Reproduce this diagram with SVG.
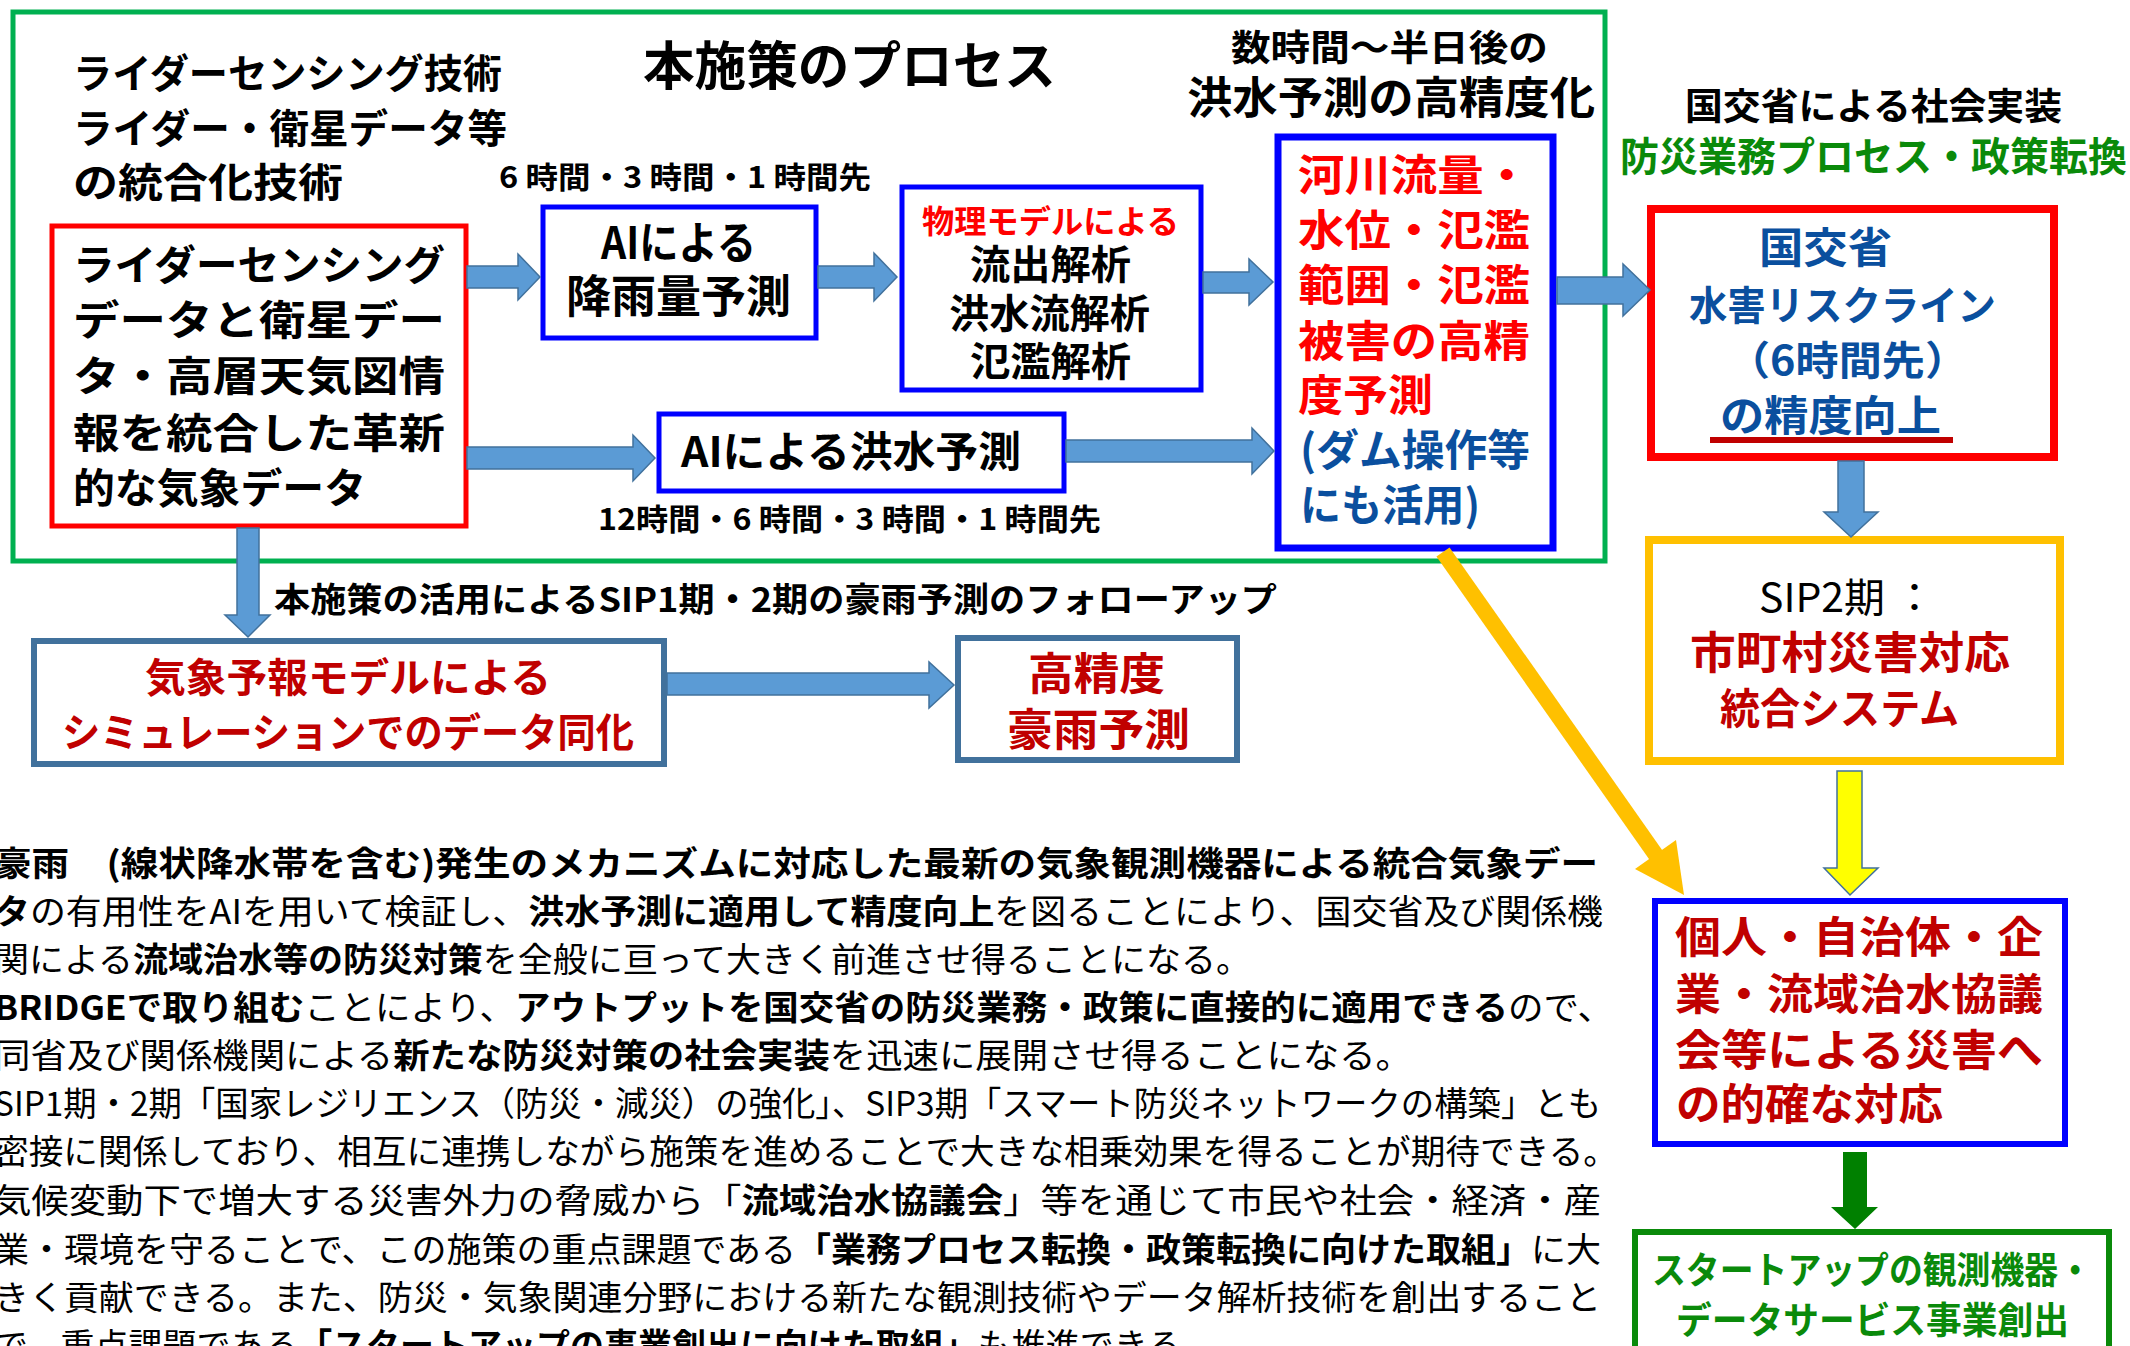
<svg xmlns="http://www.w3.org/2000/svg" width="2130" height="1346" viewBox="0 0 2130 1346">
<style>
text{font-family:"Noto Sans CJK JP","Noto Sans",sans-serif;font-weight:700;fill:#000}
.n{font-weight:400}
.b{font-weight:700}
.red{fill:#FF0000}
.dred{fill:#C00000}
.blu{fill:#0A4F9E}
.grn{fill:#0A8A0A}
.box{fill:#fff}
.ba{fill:#5B9BD5;stroke:#41719C;stroke-width:1.5}
.p{font-size:34px}
</style>
<rect x="0" y="0" width="2130" height="1346" fill="#fff"/>

<g id="process-frame">
<rect x="13" y="12" width="1592" height="549" fill="none" stroke="#00B050" stroke-width="5"/>
<text x="643" y="85" font-size="52" textLength="413" lengthAdjust="spacingAndGlyphs">本施策のプロセス</text>
</g>

<g id="tech-label">
<text x="73" y="88" font-size="40" textLength="429" lengthAdjust="spacingAndGlyphs">ライダーセンシング技術</text>
<text x="73" y="143" font-size="40" textLength="434" lengthAdjust="spacingAndGlyphs">ライダー・衛星データ等</text>
<text x="73" y="197" font-size="40" textLength="270" lengthAdjust="spacingAndGlyphs">の統合化技術</text>
</g>

<g id="node-data">
<rect class="box" x="52" y="226" width="414" height="300" stroke="#FF0000" stroke-width="5"/>
<text x="73" y="280" font-size="41" textLength="372" lengthAdjust="spacingAndGlyphs">ライダーセンシング</text>
<text x="73" y="335" font-size="41" textLength="372" lengthAdjust="spacingAndGlyphs">データと衛星デー</text>
<text x="73" y="391" font-size="41" textLength="372" lengthAdjust="spacingAndGlyphs">タ・高層天気図情</text>
<text x="73" y="448" font-size="41" textLength="372" lengthAdjust="spacingAndGlyphs">報を統合した革新</text>
<text x="73" y="503" font-size="41" textLength="293" lengthAdjust="spacingAndGlyphs">的な気象データ</text>
</g>

<g id="label-6h">
<text x="499" y="188" font-size="30" textLength="372" lengthAdjust="spacingAndGlyphs">6 時間・3 時間・1 時間先</text>
</g>

<g id="node-ai-rain">
<rect class="box" x="543" y="207" width="273" height="131" stroke="#0000FF" stroke-width="5"/>
<text x="601" y="259" font-size="44" textLength="155" lengthAdjust="spacingAndGlyphs">AIによる</text>
<text x="566" y="313" font-size="45" textLength="225" lengthAdjust="spacingAndGlyphs">降雨量予測</text>
</g>

<g id="node-physics">
<rect class="box" x="902" y="187" width="299" height="203" stroke="#0000FF" stroke-width="5"/>
<text class="red" x="922" y="233" font-size="32" textLength="257" lengthAdjust="spacingAndGlyphs">物理モデルによる</text>
<text x="970" y="279" font-size="40" textLength="161" lengthAdjust="spacingAndGlyphs">流出解析</text>
<text x="949" y="328" font-size="40" textLength="201" lengthAdjust="spacingAndGlyphs">洪水流解析</text>
<text x="970" y="376" font-size="40" textLength="161" lengthAdjust="spacingAndGlyphs">氾濫解析</text>
</g>

<g id="node-ai-flood">
<rect class="box" x="659" y="414" width="405" height="77" stroke="#0000FF" stroke-width="5"/>
<text x="681" y="467" font-size="42" textLength="340" lengthAdjust="spacingAndGlyphs">AIによる洪水予測</text>
</g>

<g id="label-12h">
<text x="598" y="530" font-size="30" textLength="503" lengthAdjust="spacingAndGlyphs">12時間・6 時間・3 時間・1 時間先</text>
</g>

<g id="label-hours">
<text x="1231" y="61" font-size="36" textLength="317" lengthAdjust="spacingAndGlyphs">数時間～半日後の</text>
<text x="1187" y="114" font-size="44" textLength="408" lengthAdjust="spacingAndGlyphs">洪水予測の高精度化</text>
</g>

<g id="node-river">
<rect class="box" x="1278" y="137" width="275" height="411" stroke="#0000FF" stroke-width="7"/>
<text class="red" x="1298" y="191" font-size="43" textLength="232" lengthAdjust="spacingAndGlyphs">河川流量・</text>
<text class="red" x="1298" y="246" font-size="43" textLength="232" lengthAdjust="spacingAndGlyphs">水位・氾濫</text>
<text class="red" x="1298" y="301" font-size="43" textLength="232" lengthAdjust="spacingAndGlyphs">範囲・氾濫</text>
<text class="red" x="1298" y="357" font-size="43" textLength="232" lengthAdjust="spacingAndGlyphs">被害の高精</text>
<text class="red" x="1298" y="411" font-size="43" textLength="135" lengthAdjust="spacingAndGlyphs">度予測</text>
<text class="blu" x="1300" y="466" font-size="43" textLength="230" lengthAdjust="spacingAndGlyphs">(ダム操作等</text>
<text class="blu" x="1300" y="521" font-size="43" textLength="180" lengthAdjust="spacingAndGlyphs">にも活用)</text>
</g>

<g id="label-mlit">
<text x="1685" y="120" font-size="37" textLength="377" lengthAdjust="spacingAndGlyphs">国交省による社会実装</text>
<text class="grn" x="1620" y="171" font-size="40" textLength="507" lengthAdjust="spacingAndGlyphs">防災業務プロセス・政策転換</text>
</g>

<g id="node-mlit">
<rect class="box" x="1651" y="209" width="403" height="248" stroke="#FF0000" stroke-width="8"/>
<text class="blu" x="1759" y="263" font-size="42" textLength="133" lengthAdjust="spacingAndGlyphs">国交省</text>
<text class="blu" x="1689" y="320" font-size="40" textLength="307" lengthAdjust="spacingAndGlyphs">水害リスクライン</text>
<text class="blu" x="1727" y="375" font-size="40" textLength="241" lengthAdjust="spacingAndGlyphs">（6時間先）</text>
<text class="blu" x="1720" y="431" font-size="42" textLength="221" lengthAdjust="spacingAndGlyphs">の精度向上</text>
<rect x="1710" y="437" width="243" height="6" fill="#C00000"/>
</g>

<g id="node-sip2">
<rect class="box" x="1649" y="540" width="411" height="221" stroke="#FFC000" stroke-width="8"/>
<text class="n" x="1759" y="612" font-size="40" textLength="176" lengthAdjust="spacingAndGlyphs">SIP2期 ：</text>
<text class="dred" x="1690" y="669" font-size="44" textLength="320" lengthAdjust="spacingAndGlyphs">市町村災害対応</text>
<text class="dred" x="1720" y="724" font-size="42" textLength="239" lengthAdjust="spacingAndGlyphs">統合システム</text>
</g>

<g id="node-response">
<rect class="box" x="1655" y="901" width="410" height="243" stroke="#0000FF" stroke-width="6"/>
<text class="dred" x="1675" y="953" font-size="43" textLength="368" lengthAdjust="spacingAndGlyphs">個人・自治体・企</text>
<text class="dred" x="1675" y="1010" font-size="43" textLength="368" lengthAdjust="spacingAndGlyphs">業・流域治水協議</text>
<text class="dred" x="1675" y="1066" font-size="43" textLength="368" lengthAdjust="spacingAndGlyphs">会等による災害へ</text>
<text class="dred" x="1676" y="1120" font-size="43" textLength="267" lengthAdjust="spacingAndGlyphs">の的確な対応</text>
</g>

<g id="node-startup">
<rect class="box" x="1635" y="1232" width="474" height="130" stroke="#0A8A0A" stroke-width="6"/>
<text class="grn" x="1652" y="1284" font-size="37" textLength="440" lengthAdjust="spacingAndGlyphs">スタートアップの観測機器・</text>
<text class="grn" x="1676" y="1334" font-size="37" textLength="393" lengthAdjust="spacingAndGlyphs">データサービス事業創出</text>
</g>

<g id="label-followup">
<text x="274" y="612" font-size="34" textLength="1003" lengthAdjust="spacingAndGlyphs">本施策の活用によるSIP1期・2期の豪雨予測のフォローアップ</text>
</g>

<g id="node-assim">
<rect class="box" x="34" y="641" width="630" height="123" stroke="#41719C" stroke-width="6"/>
<text class="dred" x="145" y="692" font-size="40" textLength="406" lengthAdjust="spacingAndGlyphs">気象予報モデルによる</text>
<text class="dred" x="62" y="747" font-size="40" textLength="572" lengthAdjust="spacingAndGlyphs">シミュレーションでのデータ同化</text>
</g>

<g id="node-heavyrain">
<rect class="box" x="958" y="638" width="279" height="122" stroke="#41719C" stroke-width="6"/>
<text class="dred" x="1028" y="690" font-size="44" textLength="137" lengthAdjust="spacingAndGlyphs">高精度</text>
<text class="dred" x="1007" y="746" font-size="44" textLength="183" lengthAdjust="spacingAndGlyphs">豪雨予測</text>
</g>

<g id="connectors">
<polygon class="ba" points="467,266 518,266 518,254 540,277 518,300 518,288 467,288"/>
<polygon class="ba" points="818,266 874,266 874,253 897,277 874,301 874,288 818,288"/>
<polygon class="ba" points="1203,272 1249,272 1249,259 1273,282 1249,305 1249,293 1203,293"/>
<polygon class="ba" points="467,447 633,447 633,435 655,458 633,481 633,469 467,469"/>
<polygon class="ba" points="1066,440 1252,440 1252,428 1274,451 1252,474 1252,462 1066,462"/>
<polygon class="ba" points="1557,277 1623,277 1623,264 1650,290 1623,316 1623,304 1557,304"/>
<polygon class="ba" points="1838,461 1864,461 1864,512 1878,512 1851,537 1824,512 1838,512"/>
<polygon fill="#FFFF00" stroke="#41719C" stroke-width="1.5" points="1837,771 1862,771 1862,868 1878,868 1850,895 1824,868 1837,868"/>
<polygon fill="#008000" points="1843,1152 1867,1152 1867,1207 1878,1207 1855,1229 1831,1207 1843,1207"/>
<polygon class="ba" points="237,528 259,528 259,615 270,615 248,637 225,615 237,615"/>
<polygon class="ba" points="667,673 929,673 929,662 954,685 929,708 929,695 667,695"/>
<line x1="1443" y1="552" x2="1658" y2="858" stroke="#FFC000" stroke-width="16"/>
<polygon fill="#FFC000" points="1684,895 1676,840 1635,869"/>
</g>

<g id="summary-text">
<text class="p" x="-6" y="876" textLength="1604" lengthAdjust="spacingAndGlyphs"><tspan class="b">豪雨　(線状降水帯を含む)発生のメカニズムに対応した最新の気象観測機器による統合気象デー</tspan></text>
<text class="p" x="-6" y="924" textLength="1609" lengthAdjust="spacingAndGlyphs"><tspan class="b">タ</tspan><tspan class="n">の有用性をAIを用いて検証し、</tspan><tspan class="b">洪水予測に適用して精度向上</tspan><tspan class="n">を図ることにより、国交省及び関係機</tspan></text>
<text class="p" x="-6" y="972" textLength="1257" lengthAdjust="spacingAndGlyphs"><tspan class="n">関による</tspan><tspan class="b">流域治水等の防災対策</tspan><tspan class="n">を全般に亘って大きく前進させ得ることになる。</tspan></text>
<text class="p" x="-6" y="1020" textLength="1619" lengthAdjust="spacingAndGlyphs"><tspan class="b">BRIDGEで取り組む</tspan><tspan class="n">ことにより、</tspan><tspan class="b">アウトプットを国交省の防災業務・政策に直接的に適用できる</tspan><tspan class="n">ので、</tspan></text>
<text class="p" x="-6" y="1068" textLength="1418" lengthAdjust="spacingAndGlyphs"><tspan class="n">同省及び関係機関による</tspan><tspan class="b">新たな防災対策の社会実装</tspan><tspan class="n">を迅速に展開させ得ることになる。</tspan></text>
<text class="p n" x="-6" y="1116" textLength="1607" lengthAdjust="spacingAndGlyphs">SIP1期・2期「国家レジリエンス（防災・減災）の強化」、SIP3期「スマート防災ネットワークの構築」とも</text>
<text class="p n" x="-6" y="1164" textLength="1624" lengthAdjust="spacingAndGlyphs">密接に関係しており、相互に連携しながら施策を進めることで大きな相乗効果を得ることが期待できる。</text>
<text class="p" x="-6" y="1213" textLength="1607" lengthAdjust="spacingAndGlyphs"><tspan class="n">気候変動下で増大する災害外力の脅威から「</tspan><tspan class="b">流域治水協議会</tspan><tspan class="n">」等を通じて市民や社会・経済・産</tspan></text>
<text class="p" x="-6" y="1262" textLength="1607" lengthAdjust="spacingAndGlyphs"><tspan class="n">業・環境を守ることで、この施策の重点課題である</tspan><tspan class="b">「業務プロセス転換・政策転換に向けた取組」</tspan><tspan class="n">に大</tspan></text>
<text class="p n" x="-6" y="1310" textLength="1607" lengthAdjust="spacingAndGlyphs">きく貢献できる。また、防災・気象関連分野における新たな観測技術やデータ解析技術を創出すること</text>
<text class="p" x="-6" y="1358" textLength="1221" lengthAdjust="spacingAndGlyphs"><tspan class="n">で、重点課題である</tspan><tspan class="b">「スタートアップの事業創出に向けた取組」</tspan><tspan class="n">も推進できる。</tspan></text>
</g>
</svg>
